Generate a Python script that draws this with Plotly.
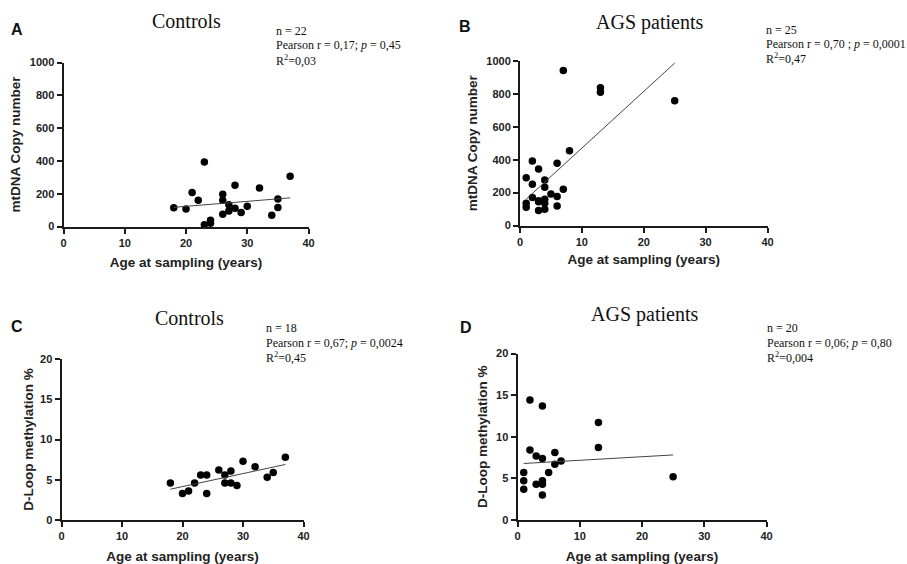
import numpy as np
import plotly.graph_objects as go

W, H = 907, 564

# ---- data ----
ctrl_age_cn = [18, 20, 21, 22, 23, 23, 24, 24, 26, 26, 26, 27, 27, 28, 28, 29, 30, 32, 34, 35, 35, 37]
ctrl_cn = [115, 107, 207, 160, 393, 10, 38, 20, 197, 160, 75, 132, 95, 252, 112, 85, 124, 235, 69, 168, 116, 306]

ags_age_cn = [1, 1, 1, 2, 2, 2, 3, 3, 3, 3, 4, 4, 4, 4, 4, 5, 6, 6, 6, 7, 7, 8, 13, 13, 25]
ags_cn = [290, 135, 111, 392, 250, 170, 343, 150, 91, 145, 277, 232, 160, 135, 99, 192, 378, 176, 119, 943, 220, 455, 838, 810, 758]

ctrl_age_dl = [18, 20, 21, 22, 23, 24, 24, 26, 27, 27, 28, 28, 29, 30, 32, 34, 35, 37]
ctrl_dl = [4.6, 3.3, 3.6, 4.6, 5.6, 5.6, 3.3, 6.2, 5.6, 4.6, 6.1, 4.6, 4.3, 7.3, 6.6, 5.3, 5.9, 7.8]

ags_age_dl = [1, 1, 1, 2, 2, 3, 3, 4, 4, 4, 4, 4, 4, 5, 6, 6, 7, 13, 13, 25]
ags_dl = [5.7, 4.7, 3.7, 14.4, 8.4, 7.7, 4.3, 13.7, 7.4, 4.7, 4.3, 4.5, 3.0, 5.7, 8.1, 6.7, 7.1, 11.7, 8.7, 5.2]

x_ticks = [0, 10, 20, 30, 40]
cn_ticks = [0, 200, 400, 600, 800, 1000]
dl_ticks = [0, 5, 10, 15, 20]

panels = [
    dict(letter="A", title="Controls", x=ctrl_age_cn, y=ctrl_cn, ytitle="mtDNA Copy number",
         yrange=[0, 1000], yticks=cn_ticks,
         stats=["n = 22", "Pearson r = 0,17; <i>p</i> = 0,45", "R<sup>2</sup>=0,03"]),
    dict(letter="B", title="AGS patients", x=ags_age_cn, y=ags_cn, ytitle="mtDNA Copy number",
         yrange=[0, 1000], yticks=cn_ticks,
         stats=["n = 25", "Pearson r = 0,70 ; <i>p</i> = 0,0001", "R<sup>2</sup>=0,47"]),
    dict(letter="C", title="Controls", x=ctrl_age_dl, y=ctrl_dl, ytitle="D-Loop methylation %",
         yrange=[0, 20], yticks=dl_ticks,
         stats=["n = 18", "Pearson r = 0,67; <i>p</i> = 0,0024", "R<sup>2</sup>=0,45"]),
    dict(letter="D", title="AGS patients", x=ags_age_dl, y=ags_dl, ytitle="D-Loop methylation %",
         yrange=[0, 20], yticks=dl_ticks,
         stats=["n = 20", "Pearson r = 0,06; <i>p</i> = 0,80", "R<sup>2</sup>=0,004"]),
]

# pixel layout (left, right, top, bottom) of each plot area
boxes = [(63.5, 308.5, 62.5, 226.5), (520, 767.5, 61, 225.5), (61.5, 303.5, 359, 520), (517.5, 766.5, 353.5, 520)]
title_pos = [(186, 21), (649, 22), (189, 318), (644, 314)]
letter_pos = [(9, 29), (457, 26), (9, 326), (458, 327)]
stats_pos = [(274, 31), (764, 30), (264, 328), (765, 328)]
ytitle_std = [6, 6, 3, 5]
xtitle_std = [10, 8, 10, 10]

def px(x):
    return x / W

def py(y):
    return 1 - y / H

fig = go.Figure()
annotations = []
sans = "Liberation Sans, Arial, sans-serif"
serif = "Liberation Serif, Times New Roman, serif"

for i, p in enumerate(panels):
    n = "" if i == 0 else str(i + 1)
    xa, ya = "x" + n, "y" + n
    l, r, t, b = boxes[i]
    x = np.array(p["x"], float)
    y = np.array(p["y"], float)
    fig.add_trace(go.Scatter(x=x, y=y, mode="markers", xaxis=xa, yaxis=ya,
                             marker=dict(color="black", size=7.5), cliponaxis=False, showlegend=False))
    k, c = np.polyfit(x, y, 1)
    xl = np.array([x.min(), x.max()])
    fig.add_trace(go.Scatter(x=xl, y=k * xl + c, mode="lines", xaxis=xa, yaxis=ya,
                             line=dict(color="#444", width=1), showlegend=False))
    axis_common = dict(showgrid=False, zeroline=False, showline=True, linecolor="#1a1a1a", linewidth=2,
                       ticks="outside", ticklen=5, tickwidth=2, tickcolor="#1a1a1a", automargin=False,
                       tickfont=dict(family=sans, size=11, color="#222", weight="bold"))
    fig.update_layout(**{
        "xaxis" + n: dict(domain=[px(l), px(r)], range=[0, 40], tickvals=x_ticks, anchor=ya,
                          title=dict(text="Age at sampling (years)", standoff=xtitle_std[i],
                                     font=dict(family=sans, size=13.5, color="#222", weight="bold")),
                          **axis_common),
        "yaxis" + n: dict(domain=[py(b), py(t)], range=p["yrange"], tickvals=p["yticks"], anchor=xa,
                          title=dict(text=p["ytitle"], standoff=ytitle_std[i],
                                     font=dict(family=sans, size=13.5, color="#222", weight="bold")),
                          **axis_common),
    })
    tx, ty = title_pos[i]
    annotations.append(dict(text=p["title"], x=px(tx), y=py(ty), xref="paper", yref="paper",
                            showarrow=False, xanchor="center", yanchor="middle",
                            font=dict(family=serif, size=20, color="#111")))
    lx, ly = letter_pos[i]
    annotations.append(dict(text="<b>" + p["letter"] + "</b>", x=px(lx), y=py(ly), xref="paper", yref="paper",
                            showarrow=False, xanchor="left", yanchor="middle",
                            font=dict(family=sans, size=16, color="#111")))
    sx, sy = stats_pos[i]
    for j, line in enumerate(p["stats"]):
        annotations.append(dict(text=line, x=px(sx), y=py(sy + 14.5 * j), xref="paper", yref="paper",
                                showarrow=False, xanchor="left", yanchor="middle",
                                font=dict(family=serif, size=12, color="#111")))

fig.update_layout(width=W, height=H, margin=dict(l=0, r=0, t=0, b=0, autoexpand=False),
                  plot_bgcolor="white", paper_bgcolor="white", annotations=annotations)

post = ("document.documentElement.style.overflow='hidden';"
        "document.body.style.margin='0';document.body.style.overflow='hidden';"
        "var d=document.querySelector('.plotly-graph-div');"
        "d.style.position='fixed';d.style.left='0px';d.style.top='0px';")
fig.write_html("out.html", config={"displayModeBar": False}, post_script=post)
